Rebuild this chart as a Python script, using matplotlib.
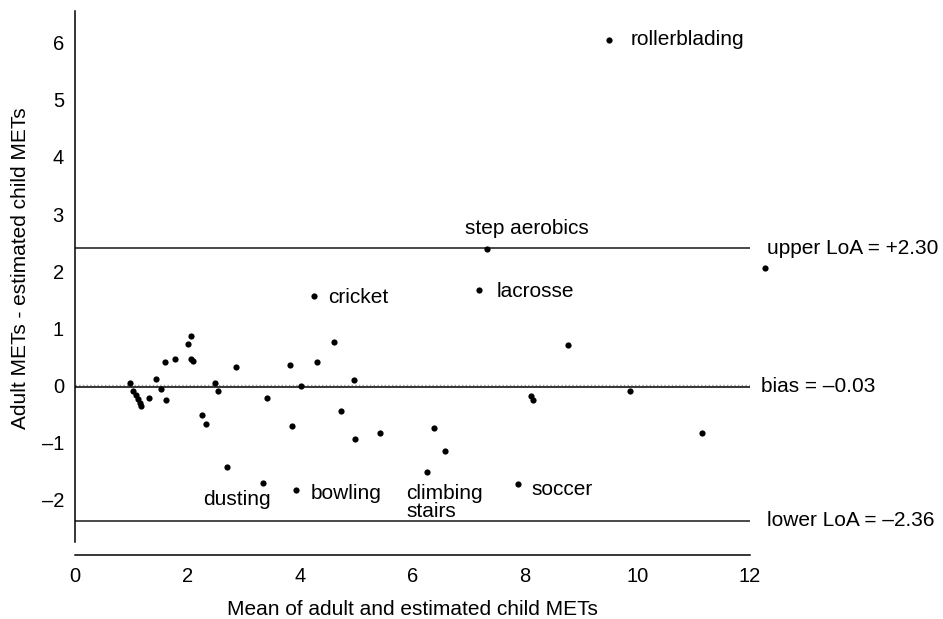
import numpy as np
import matplotlib
matplotlib.use("Agg")
import matplotlib.pyplot as plt

plt.rcParams['font.family'] = ['Liberation Sans', 'DejaVu Sans']

# mean of adult and estimated child METs (x) and difference (y)
mean_mets = [0.98, 1.03, 1.08, 1.12, 1.16, 1.18, 1.31, 1.44, 1.53, 1.62,
             1.60, 1.77, 2.01, 2.07, 2.06, 2.10, 2.26, 2.33, 2.48, 2.55,
             2.86, 3.41, 3.82, 3.86, 4.01, 4.31, 2.70, 3.35, 3.92, 4.24,
             4.61, 4.72, 4.96, 4.98, 5.42, 6.25, 6.38, 6.57, 7.18, 7.88,
             8.10, 8.14, 8.76, 9.86, 11.14, 12.27, 7.32, 9.49]
diff_mets = [0.03, -0.105, -0.175, -0.25, -0.32, -0.36, -0.22, 0.10, -0.065, -0.26,
             0.40, 0.46, 0.72, 0.86, 0.46, 0.43, -0.53, -0.68, 0.03, -0.105,
             0.31, -0.22, 0.36, -0.72, -0.02, 0.40, -1.43, -1.72, -1.84, 1.56,
             0.76, -0.46, 0.09, -0.95, -0.84, -1.52, -0.75, -1.16, 1.66, -1.74,
             -0.20, -0.26, 0.71, -0.105, -0.84, 2.06, 2.38, 6.06]

# labelled activities: name -> index of the point
activities = ["rollerblading", "step aerobics", "cricket", "lacrosse",
              "dusting", "bowling", "climbing\nstairs", "soccer"]
activity_idx = [47, 46, 29, 38, 27, 28, 35, 39]

# reference lines as drawn, and their labels
bias_line = -0.03
upper_line = 2.40
lower_line = -2.38
ref_labels = ["upper LoA = +2.30", "bias = \u20130.03", "lower LoA = \u20132.36"]

x_ticks = [0, 2, 4, 6, 8, 10, 12]
y_ticks = [-2, -1, 0, 1, 2, 3, 4, 5, 6]
y_ticklabels = ["\u20132", "\u20131", "0", "1", "2", "3", "4", "5", "6"]

fig = plt.figure(figsize=(9.43, 6.19), dpi=100)
ax = fig.add_axes([75 / 943, 1 - 555 / 619, 675 / 943, 544 / 619])

ax.set_xlim(0, 12)
ax.set_ylim(-2.98, 6.56)

ax.axhline(0, color='#9a9a9a', lw=1, ls=':', zorder=1)
ax.axhline(bias_line, color='black', lw=1.1, zorder=1)
ax.axhline(upper_line, color='#3a3a3a', lw=1.3, zorder=1)
ax.axhline(lower_line, color='#3a3a3a', lw=1.3, zorder=1)

ax.scatter(mean_mets, diff_mets, s=20, color='black', zorder=3, clip_on=False,
           linewidths=0)

# label offsets in pixels (dx, dy, ha)
offsets = {
    "rollerblading": (22, 0, 'left'),
    "step aerobics": (40, 21, 'center'),
    "cricket": (15, -1, 'left'),
    "lacrosse": (18, -1, 'left'),
    "dusting": (-27, -16, 'center'),
    "bowling": (15, -4, 'left'),
    "climbing\nstairs": (-20, -31, 'left'),
    "soccer": (13, -5, 'left'),
}
for name, i in zip(activities, activity_idx):
    dx, dy, ha = offsets[name]
    ax.annotate(name, (mean_mets[i], diff_mets[i]), xytext=(dx, dy),
                textcoords='offset pixels', ha=ha, va='center',
                fontsize=15, linespacing=0.95, annotation_clip=False)

for lvl, txt, dx in zip([upper_line, bias_line, lower_line], ref_labels, [17, 11, 17]):
    ax.annotate(txt, (12, lvl), xytext=(dx, 0), textcoords='offset pixels',
                ha='left', va='center', fontsize=15, annotation_clip=False)

for s in ['top', 'right']:
    ax.spines[s].set_visible(False)
ax.spines['left'].set_bounds(-2.75, 6.56)
ax.spines['left'].set_linewidth(1.1)
ax.spines['bottom'].set_linewidth(1.1)

ax.set_xticks(x_ticks)
ax.set_yticks(y_ticks)
ax.set_yticklabels(y_ticklabels)
ax.tick_params(axis='both', length=0, labelsize=14.5)
ax.tick_params(axis='y', pad=8)
ax.tick_params(axis='x', pad=8.4)

ax.set_xlabel("Mean of adult and estimated child METs", fontsize=15, labelpad=10)
ax.set_ylabel("Adult METs - estimated child METs", fontsize=15)
ax.yaxis.set_label_coords(-0.0667, 0.5276)

fig.savefig("out.png", dpi=100)
